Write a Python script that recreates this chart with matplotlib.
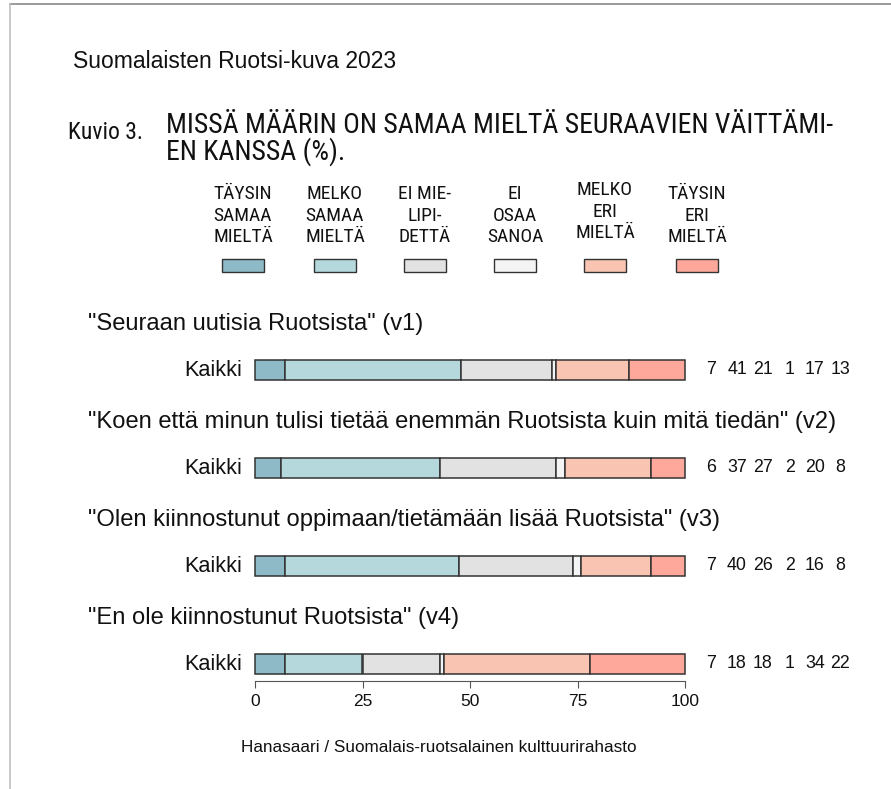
import matplotlib
matplotlib.use("Agg")
import matplotlib.pyplot as plt
from matplotlib import font_manager
from matplotlib.patches import Rectangle
from matplotlib.lines import Line2D
from matplotlib.transforms import blended_transform_factory

REG = "Liberation Sans"
plt.rcParams["font.family"] = [REG, "DejaVu Sans"]

# pick a condensed face for the narrow texts
cands = []
for f in font_manager.fontManager.ttflist:
    tag = (f.name + " " + str(f.stretch) + " " + f.fname).lower()
    if f.style != "normal" or f.weight not in (400, "normal", "regular"):
        continue
    if "narrow" in tag or "condensed" in tag:
        cands.append(f)
prio = ["liberation", "arimo", "roboto", "open", "noto", "dejavu"]


def rank(f):
    n = f.fname.lower()
    for i, p in enumerate(prio):
        if p in n:
            return i
    return len(prio)


cands.sort(key=rank)
NARROW = font_manager.FontProperties(fname=cands[0].fname) if cands else \
    font_manager.FontProperties(family="DejaVu Sans", stretch="condensed")

# data
categories = ["TÄYSIN\nSAMAA\nMIELTÄ", "MELKO\nSAMAA\nMIELTÄ", "EI MIE-\nLIPI-\nDETTÄ",
              "EI\nOSAA\nSANOA", "MELKO\nERI\nMIELTÄ", "TÄYSIN\nERI\nMIELTÄ"]
colors = ["#8dbac6", "#b4d8db", "#e2e2e2", "#f4f4f4", "#f9c4b1", "#fda89a"]
statements = ['"Seuraan uutisia Ruotsista" (v1)',
              '"Koen että minun tulisi tietää enemmän Ruotsista kuin mitä tiedän" (v2)',
              '"Olen kiinnostunut oppimaan/tietämään lisää Ruotsista" (v3)',
              '"En ole kiinnostunut Ruotsista" (v4)']
v1 = [7, 41, 21, 1, 17, 13]
v2 = [6, 37, 27, 2, 20, 8]
v3 = [7, 40.4, 26.6, 1.8, 16.2, 8]
v4 = [7, 18, 18, 1, 34, 22]
labels_v1 = [7, 41, 21, 1, 17, 13]
labels_v2 = [6, 37, 27, 2, 20, 8]
labels_v3 = [7, 40, 26, 2, 16, 8]
labels_v4 = [7, 18, 18, 1, 34, 22]
ticks = [0, 25, 50, 75, 100]

W, H = 891, 789
fig = plt.figure(figsize=(W / 100, H / 100), dpi=100)


def fx(px):
    return px / W


def fy(py):
    return 1 - py / H


def narrow(size):
    p = NARROW.copy()
    p.set_size(size)
    return p


# frame lines
fig.add_artist(Line2D([fx(9.5), 1], [fy(3.5), fy(3.5)], color="#8a8a8a", lw=1.2))
fig.add_artist(Line2D([fx(9.5), fx(9.5)], [0, fy(3.5)], color="#c0c0c0", lw=1.2))

fig.text(fx(73), fy(62), "Suomalaisten Ruotsi-kuva 2023", fontsize=16.5,
         va="center", ha="left", color="#111111")
fig.text(fx(68), fy(139), "Kuvio 3.", fontproperties=narrow(17),
         va="baseline", ha="left", color="#111111")
fig.text(fx(166), fy(133), "MISSÄ MÄÄRIN ON SAMAA MIELTÄ SEURAAVIEN VÄITTÄMI-",
         fontproperties=narrow(20), va="baseline", ha="left", color="#111111")
fig.text(fx(166), fy(160), "EN KANSSA (%).",
         fontproperties=narrow(20), va="baseline", ha="left", color="#111111")

# legend
leg_x = [243, 335, 425, 515, 605, 697]
for i, (cat, col) in enumerate(zip(categories, colors)):
    x = leg_x[i]
    ytop = 181 if i == 4 else 185
    fig.text(fx(x), fy(ytop), cat, fontproperties=narrow(14), ha="center",
             va="top", linespacing=1.26, color="#111111")
    fig.add_artist(Rectangle((fx(x - 21), fy(272)), fx(42), 13 / H,
                             facecolor=col, edgecolor="#333333", lw=1.0))

# bars
ax = fig.add_axes([fx(255), fy(681), fx(430), 380 / H])
ax.set_xlim(0, 100)
ax.set_ylim(-17 / 98, 363 / 98)
rows = [v1, v2, v3, v4]
row_labels = [labels_v1, labels_v2, labels_v3, labels_v4]
ypos = [3, 2, 1, 0]
for y, vals in zip(ypos, rows):
    left = 0
    for v, col in zip(vals, colors):
        ax.barh(y, v, left=left, height=20 / 98, color=col, edgecolor="#333333",
                linewidth=1.1, clip_on=False)
        left += v

tr = blended_transform_factory(fig.transFigure, ax.transData)
num_x = [711, 737, 763, 790, 815, 840]
for y, stmt, labs in zip(ypos, statements, row_labels):
    ax.text(fx(88), y + 46 / 98, stmt, transform=tr, fontsize=17.1,
            ha="left", va="center", color="#111111")
    ax.text(fx(242), y, "Kaikki", transform=tr, fontsize=15.6,
            ha="right", va="center", color="#111111")
    for xx, lab in zip(num_x, labs):
        ax.text(fx(xx), y, str(lab), transform=tr, fontsize=12.8,
                ha="center", va="center", color="#111111")

for s in ["top", "right", "left"]:
    ax.spines[s].set_visible(False)
ax.spines["bottom"].set_bounds(0, 100)
ax.spines["bottom"].set_color("#555555")
ax.set_yticks([])
ax.set_xticks(ticks)
ax.tick_params(axis="x", length=5, color="#555555", labelsize=12.5,
               labelcolor="#111111", pad=4)

fig.text(fx(439), fy(748), "Hanasaari / Suomalais-ruotsalainen kulttuurirahasto",
         fontsize=12.3, ha="center", va="center", color="#111111")

fig.savefig("out.png", dpi=100, facecolor="white")
